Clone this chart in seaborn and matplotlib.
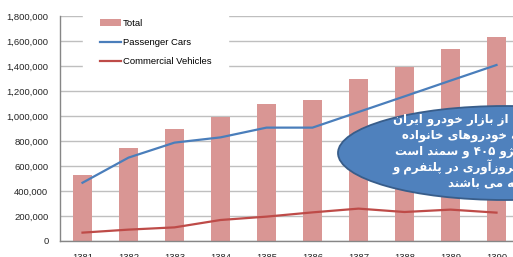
import re
import numpy as np
import pandas as pd
import matplotlib
matplotlib.use("Agg")
import matplotlib.pyplot as plt
import matplotlib.ticker as mticker
from matplotlib.patches import Ellipse
import seaborn as sns

# --- data ---
years = ['1381', '1382', '1383', '1384', '1385', '1386', '1387', '1388', '1389', '1390']
total = [528000, 746000, 896000, 989000, 1096000, 1128000, 1293000, 1395000, 1536000, 1632000]
passenger = [466000, 667000, 787000, 829000, 907000, 907000, 1032000, 1157000, 1283000, 1408000]
commercial = [67000, 91000, 109000, 168000, 195000, 229000, 259000, 232000, 251000, 227000]

# callout text (logical order, the right part is cut off by the figure edge)
callout_lines = [
    "سهم عمده ای از بازار خودرو ایران",
    "متعلق به خودروهای خانواده",
    "پراید، پژو ۴۰۵ و سمند است",
    "که نیازمند بروزآوری در پلتفرم و",
    "بدنه می باشند",
]

# --- simple persian shaping (matplotlib has no bidi / shaping) ---
FORMS = {
    'ا': ('\uFE8D', '\uFE8E', None, None),
    'آ': ('\uFE81', '\uFE82', None, None),
    'ب': ('\uFE8F', '\uFE90', '\uFE91', '\uFE92'),
    'پ': ('\uFB56', '\uFB57', '\uFB58', '\uFB59'),
    'ت': ('\uFE95', '\uFE96', '\uFE97', '\uFE98'),
    'خ': ('\uFEA5', '\uFEA6', '\uFEA7', '\uFEA8'),
    'د': ('\uFEA9', '\uFEAA', None, None),
    'ر': ('\uFEAD', '\uFEAE', None, None),
    'ز': ('\uFEAF', '\uFEB0', None, None),
    'ژ': ('\uFB8A', '\uFB8B', None, None),
    'س': ('\uFEB1', '\uFEB2', '\uFEB3', '\uFEB4'),
    'ش': ('\uFEB5', '\uFEB6', '\uFEB7', '\uFEB8'),
    'ع': ('\uFEC9', '\uFECA', '\uFECB', '\uFECC'),
    'ف': ('\uFED1', '\uFED2', '\uFED3', '\uFED4'),
    'ق': ('\uFED5', '\uFED6', '\uFED7', '\uFED8'),
    'ک': ('\uFB8E', '\uFB8F', '\uFB90', '\uFB91'),
    'ل': ('\uFEDD', '\uFEDE', '\uFEDF', '\uFEE0'),
    'م': ('\uFEE1', '\uFEE2', '\uFEE3', '\uFEE4'),
    'ن': ('\uFEE5', '\uFEE6', '\uFEE7', '\uFEE8'),
    'ه': ('\uFEE9', '\uFEEA', '\uFEEB', '\uFEEC'),
    'و': ('\uFEED', '\uFEEE', None, None),
    'ی': ('\uFBFC', '\uFBFD', '\uFBFE', '\uFBFF'),
}


def shape(s):
    out = []
    for i, ch in enumerate(s):
        if ch not in FORMS:
            out.append(ch)
            continue
        prev = s[i - 1] if i > 0 else ''
        nxt = s[i + 1] if i + 1 < len(s) else ''
        jp = prev in FORMS and FORMS[prev][2] is not None
        jn = nxt in FORMS and FORMS[ch][2] is not None
        iso, fin, ini, med = FORMS[ch]
        if jp and jn:
            out.append(med)
        elif jp:
            out.append(fin)
        elif jn:
            out.append(ini)
        else:
            out.append(iso)
    vis = ''.join(out)[::-1]
    # digits stay left-to-right
    return re.sub('[\u06F0-\u06F9]+', lambda m: m.group(0)[::-1], vis)


# --- figure ---
W, H = 513, 257
fig = plt.figure(figsize=(W / 100, H / 100), dpi=100)
ax = fig.add_axes([59.5 / W, 16 / H, 460 / W, 225 / H])

df = pd.DataFrame({'year': years, 'total': total,
                   'passenger': passenger, 'commercial': commercial})

sns.barplot(data=df, x='year', y='total', color='#D99694', saturation=1,
            width=0.4, ax=ax, label='Total', zorder=2)
sns.lineplot(data=df, x='year', y='passenger', color='#4A7EBB', lw=1.6,
             ax=ax, label='Passenger Cars', sort=False, zorder=3)
sns.lineplot(data=df, x='year', y='commercial', color='#BE4B48', lw=1.6,
             ax=ax, label='Commercial Vehicles', sort=False, zorder=3)

ax.set_xlim(-0.5, 9.5)
ax.set_ylim(0, 1800000)
ax.set_yticks(np.arange(0, 1800001, 200000))
ax.yaxis.set_major_formatter(mticker.FuncFormatter(lambda v, p: f'{int(v):,}'))
ax.set_xlabel('')
ax.set_ylabel('')
ax.yaxis.grid(True, color='#BFBFBF', lw=1)
ax.set_axisbelow(True)
for s in ['top', 'right']:
    ax.spines[s].set_visible(False)
for s in ['left', 'bottom']:
    ax.spines[s].set_color('#868686')
    ax.spines[s].set_linewidth(1)
ax.tick_params(axis='both', length=0, labelsize=6.8, labelcolor='#262626')
ax.tick_params(axis='y', pad=8)
ax.tick_params(axis='x', pad=9)
for lab in ax.get_xticklabels() + ax.get_yticklabels():
    lab.set_fontfamily('Liberation Sans')

handles, labels = ax.get_legend_handles_labels()
order = [labels.index(k) for k in ['Total', 'Passenger Cars', 'Commercial Vehicles']]
leg = ax.legend([handles[i] for i in order], [labels[i] for i in order],
                loc='upper left', bbox_to_anchor=(83 / W, 1 - 2 / H),
                bbox_transform=fig.transFigure, frameon=True, fancybox=False,
                facecolor='white', edgecolor='white', framealpha=1,
                prop={'family': 'Liberation Sans', 'size': 6.8},
                borderpad=1.8, labelspacing=1.05, handlelength=2.2,
                handletextpad=0.2, borderaxespad=0)
leg.set_zorder(4)

# callout ellipse
ell = Ellipse((505 / W, 1 - 153 / H), 334 / W, 94 / H, transform=fig.transFigure,
              facecolor='#4F81BD', edgecolor='#385D8A', lw=1.3, zorder=5)
fig.add_artist(ell)

text_x = [393, 402, 395, 392, 448]
text_y = [120, 135.5, 151, 167, 183]
for line, tx, ty in zip(callout_lines, text_x, text_y):
    fig.text(tx / W, 1 - ty / H, shape(line), ha='left', va='center',
             color='white', fontsize=8.5, fontweight='bold',
             family=['DejaVu Sans'], zorder=6)

fig.savefig('out.png', dpi=100)
